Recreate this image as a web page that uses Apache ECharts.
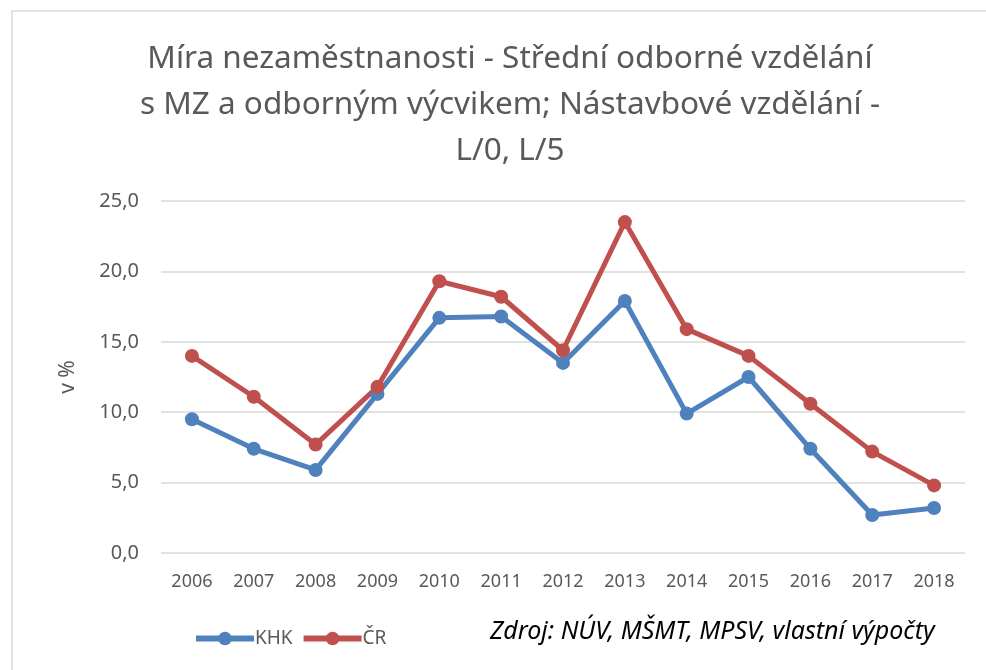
<!DOCTYPE html>
<html>
<head>
<meta charset="utf-8">
<script src="https://cdn.jsdelivr.net/npm/echarts@6/dist/echarts.min.js"></script>
<style>
  html, body { margin: 0; padding: 0; background: #fff; }
  #chart { width: 986px; height: 670px; }
</style>
</head>
<body>
<div id="chart"></div>
<script>
const years = ['2006', '2007', '2008', '2009', '2010', '2011', '2012', '2013', '2014', '2015', '2016', '2017', '2018']
const khk = [9.5, 7.4, 5.9, 11.3, 16.7, 16.8, 13.5, 17.9, 9.9, 12.5, 7.4, 2.7, 3.2]
const cr = [14.0, 11.1, 7.7, 11.8, 19.3, 18.2, 14.4, 23.5, 15.9, 14.0, 10.6, 7.2, 4.8]
const seriesNames = ['KHK', 'ČR']
const titleText = 'Míra nezaměstnanosti - Střední odborné vzdělání\ns MZ a odborným výcvikem; Nástavbové vzdělání -\nL/0, L/5'
const sourceText = 'Zdroj: NÚV, MŠMT, MPSV, vlastní výpočty'

const font = 'Noto Sans'
const grey = '#595959'

const chart = echarts.init(document.getElementById('chart'))
chart.setOption({
  animation: false,
  textStyle: { fontFamily: font },
  title: {
    text: titleText,
    left: 505,
    top: 31,
    textAlign: 'center',
    textStyle: { fontFamily: font, fontSize: 31.5, fontWeight: 'normal', color: grey, lineHeight: 46 }
  },
  grid: { left: 161, right: 21, top: 201, bottom: 117 },
  legend: {
    data: seriesNames,
    left: 188,
    top: 624,
    itemWidth: 58,
    itemHeight: 17,
    itemGap: 8,
    lineStyle: { width: 6 },
    textStyle: { fontFamily: font, fontSize: 19, color: grey, padding: [0, 0, 0, -4] }
  },
  graphic: [
    {
      type: 'rect',
      shape: { x: 12, y: 11, width: 1000, height: 700 },
      style: { fill: 'none', stroke: '#d9d9d9', lineWidth: 1.5 },
      silent: true
    },
    {
      type: 'text',
      left: 490,
      top: 619,
      style: { text: sourceText, fontFamily: font, fontStyle: 'italic', fontSize: 25, fill: '#000' }
    }
  ],
  xAxis: {
    type: 'category',
    data: years,
    boundaryGap: true,
    axisLine: { show: false },
    axisTick: { show: false },
    axisLabel: { fontFamily: font, fontSize: 18, color: grey, margin: 20 }
  },
  yAxis: {
    type: 'value',
    min: 0,
    max: 25,
    interval: 5,
    name: 'v %',
    nameLocation: 'middle',
    nameGap: 82,
    nameTextStyle: { fontFamily: font, fontSize: 21, color: grey },
    axisLine: { show: false },
    axisTick: { show: false },
    axisLabel: {
      fontFamily: font, fontSize: 20, color: grey, margin: 22,
      formatter: v => v.toFixed(1).replace('.', ',')
    },
    splitLine: { lineStyle: { color: '#d9d9d9', width: 1.5 } }
  },
  series: [
    {
      name: seriesNames[0],
      type: 'line',
      data: khk,
      symbol: 'circle',
      symbolSize: 14,
      lineStyle: { width: 5, color: '#4F81BD' },
      itemStyle: { color: '#4F81BD' }
    },
    {
      name: seriesNames[1],
      type: 'line',
      data: cr,
      symbol: 'circle',
      symbolSize: 14,
      lineStyle: { width: 5, color: '#C0504D' },
      itemStyle: { color: '#C0504D' }
    }
  ]
})
</script>
</body>
</html>
